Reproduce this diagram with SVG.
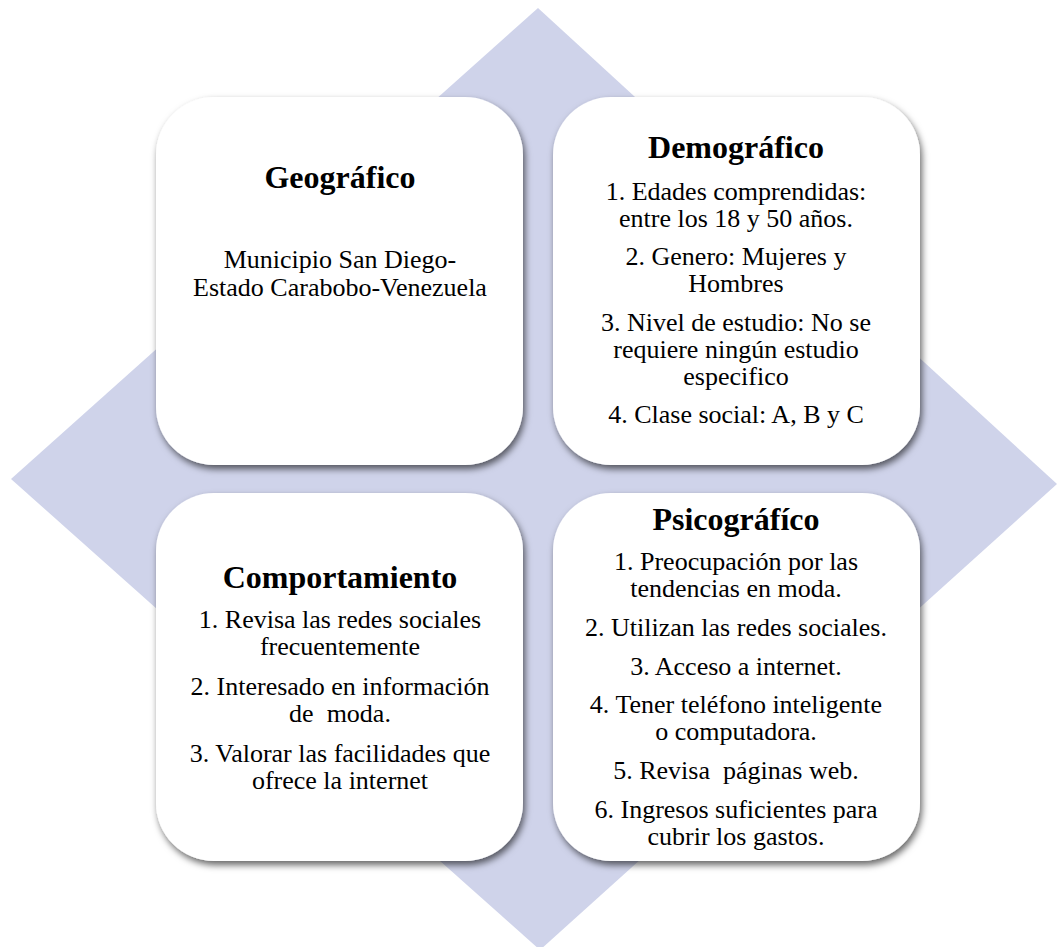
<svg xmlns="http://www.w3.org/2000/svg" width="1058" height="947" viewBox="0 0 1058 947">
<style>
.box{fill:#ffffff;filter:url(#sh);}
text{font-family:"Liberation Serif",Tinos,"Times New Roman",Times,"Noto Serif","DejaVu Serif",serif;fill:#000;text-anchor:middle;}
.t{font-size:32px;font-weight:bold;}
.b{font-size:26px;}
</style>
<defs>
<filter id="sh" x="-10%" y="-10%" width="125%" height="125%">
<feDropShadow dx="2" dy="4" stdDeviation="3.5" flood-color="#000" flood-opacity="0.6"/>
</filter>
</defs>
<rect width="1058" height="947" fill="#ffffff"/>
<polygon id="diamond" points="538,8 1057,484 540,950 11,479" fill="#CFD3EA"/>
<g id="connectors"></g>
<g id="geografico">
<rect class="box" x="156" y="97" width="367" height="368" rx="58" ry="58"/>
<text class="t" x="340" y="188">Geográfico</text>
<text class="b" x="340" y="268">Municipio San Diego-</text>
<text class="b" x="340" y="296">Estado Carabobo-Venezuela</text>
</g>
<g id="demografico">
<rect class="box" x="553" y="97" width="367" height="368" rx="58" ry="58"/>
<text class="t" x="736" y="158">Demográfico</text>
<text class="b" x="736" y="200">1. Edades comprendidas:</text>
<text class="b" x="736" y="227">entre los 18 y 50 años.</text>
<text class="b" x="736" y="265">2. Genero: Mujeres y</text>
<text class="b" x="736" y="292">Hombres</text>
<text class="b" x="736" y="331">3. Nivel de estudio: No se</text>
<text class="b" x="736" y="358">requiere ningún estudio</text>
<text class="b" x="736" y="385">especifico</text>
<text class="b" x="736" y="423">4. Clase social: A, B y C</text>
</g>
<g id="comportamiento">
<rect class="box" x="156" y="493" width="367" height="368" rx="58" ry="58"/>
<text class="t" x="340" y="588">Comportamiento</text>
<text class="b" x="340" y="628">1. Revisa las redes sociales</text>
<text class="b" x="340" y="655">frecuentemente</text>
<text class="b" x="340" y="695">2. Interesado en información</text>
<text class="b" x="340" y="722" xml:space="preserve">de  moda.</text>
<text class="b" x="340" y="762">3. Valorar las facilidades que</text>
<text class="b" x="340" y="789">ofrece la internet</text>
</g>
<g id="psicografico">
<rect class="box" x="553" y="493" width="367" height="368" rx="58" ry="58"/>
<text class="t" x="736" y="530">Psicográfíco</text>
<text class="b" x="736" y="570">1. Preocupación por las</text>
<text class="b" x="736" y="597">tendencias en moda.</text>
<text class="b" x="736" y="636">2. Utilizan las redes sociales.</text>
<text class="b" x="736" y="675">3. Acceso a internet.</text>
<text class="b" x="736" y="713">4. Tener teléfono inteligente</text>
<text class="b" x="736" y="740">o computadora.</text>
<text class="b" x="736" y="779" xml:space="preserve">5. Revisa  páginas web.</text>
<text class="b" x="736" y="818">6. Ingresos suficientes para</text>
<text class="b" x="736" y="845">cubrir los gastos.</text>
</g>
</svg>
